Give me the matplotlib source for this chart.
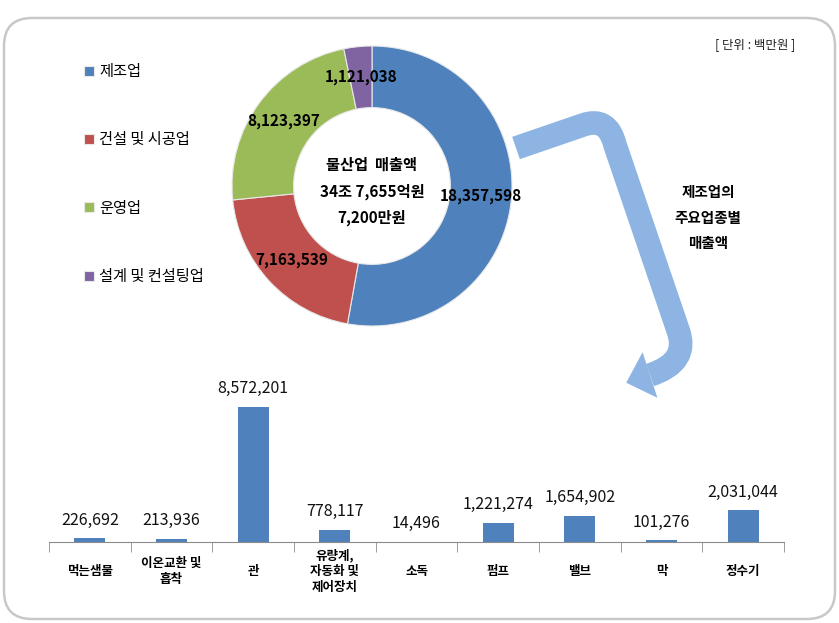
import numpy as np
import matplotlib
matplotlib.use("Agg")
import matplotlib.pyplot as plt
from matplotlib.path import Path
from matplotlib.patches import PathPatch, Polygon, FancyBboxPatch

plt.rcParams['font.family'] = ['Noto Sans CJK KR', 'DejaVu Sans']

# 물산업 분야별 매출액 (단위: 백만원)
sectors = ["제조업", "건설 및 시공업", "운영업", "설계 및 컨설팅업"]
sector_sales = [18357598, 7163539, 8123397, 1121038]
sector_colors = ["#4F81BD", "#C0504D", "#9BBB59", "#8064A2"]

# 제조업 주요업종별 매출액
items = ["먹는샘물", "이온교환 및\n흡착", "관", "유량계,\n자동화 및\n제어장치", "소독",
         "펌프", "밸브", "막", "정수기"]
item_sales = [226692, 213936, 8572201, 778117, 14496, 1221274, 1654902, 101276, 2031044]

W, H = 839, 623
fig = plt.figure(figsize=(W / 100, H / 100), dpi=100)

# 배경: 테두리와 화살표 (픽셀 좌표)
bg = fig.add_axes([0, 0, 1, 1])
bg.set_xlim(0, W)
bg.set_ylim(H, 0)
bg.axis("off")
bg.add_patch(FancyBboxPatch((4, 18), 831, 601, boxstyle="round,pad=0,rounding_size=28",
                            fill=False, edgecolor="#C8C8C8", lw=1.8))

arrow_col = "#8DB4E2"
verts = [(516, 148), (583, 125), (608, 116), (615, 145), (678, 330), (690, 362), (650, 375)]
codes = [Path.MOVETO, Path.LINETO, Path.CURVE3, Path.CURVE3, Path.LINETO, Path.CURVE3, Path.CURVE3]
bg.add_patch(PathPatch(Path(verts, codes), fill=False, edgecolor=arrow_col, lw=17,
                       capstyle="butt", joinstyle="round"))
end = np.array(verts[-1], float)
d = end - np.array(verts[-2], float)
d /= np.linalg.norm(d)
n = np.array([-d[1], d[0]])
head = [end + n * 24, end + d * 25, end - n * 24]
bg.add_patch(Polygon(head, closed=True, facecolor=arrow_col, edgecolor="none"))

bg.text(795, 45, "[ 단위 : 백만원 ]", fontsize=9, ha="right", va="center", color="#222222")
for txt, y in zip(["제조업의", "주요업종별", "매출액"], [192, 218, 243]):
    bg.text(708, y, txt, fontsize=10.5, fontweight="bold", ha="center", va="center")

# 도넛 차트
cx, cy, r = 372, 186, 140
pax = fig.add_axes([(cx - r) / W, 1 - (cy + r) / H, 2 * r / W, 2 * r / H])
wedges, _ = pax.pie(sector_sales, colors=sector_colors, startangle=90, counterclock=False,
                    wedgeprops=dict(width=0.44, edgecolor="#E8E8E8", linewidth=0.8))
pax.set_xlim(-1, 1)
pax.set_ylim(-1, 1)
pax.set_aspect("equal")
for w, v in zip(wedges, sector_sales):
    ang = np.deg2rad((w.theta1 + w.theta2) / 2)
    pax.text(0.78 * np.cos(ang), 0.78 * np.sin(ang), f"{v:,}", fontsize=11,
             fontweight="bold", ha="center", va="center")

total = sum(sector_sales)
jo, rest = divmod(total, 1000000)
eok, man = divmod(rest, 100)
center_lines = ["물산업  매출액", f"{jo}조 {eok:,}억원", f"{man * 100:,}만원"]
for txt, yy in zip(center_lines, [0.15, -0.04, -0.23]):
    pax.text(0, yy, txt, fontsize=11, fontweight="bold", ha="center", va="center")

fig.legend(wedges, sectors, loc="upper left", bbox_to_anchor=(84 / W, 1 - 63 / H),
           frameon=False, fontsize=11, handlelength=0.65, handleheight=0.65,
           handletextpad=0.35, labelspacing=3.36, borderpad=0, borderaxespad=0)

# 막대 차트
bax = fig.add_axes([49 / W, 1 - 542 / H, 735 / W, 162 / H])
x = np.arange(len(items))
bax.bar(x, item_sales, width=0.38, color="#4F81BD")
bax.set_xlim(-0.5, len(items) - 0.5)
bax.set_ylim(0, max(item_sales) * 1.2)
for i, v in zip(x, item_sales):
    bax.annotate(f"{v:,}", (i, v), xytext=(0, 13), textcoords="offset points",
                 ha="center", va="center", fontsize=11.5, color="#111111")
for s in ["top", "right", "left"]:
    bax.spines[s].set_visible(False)
bax.spines["bottom"].set_color("#8C8C8C")
bax.set_yticks([])
bax.set_xticks(x, items, fontsize=9, fontweight="bold")
bax.set_xticks(np.arange(len(items) + 1) - 0.5, minor=True)
bax.tick_params(axis="x", which="major", length=0, pad=21)
bax.tick_params(axis="x", which="minor", length=7, color="#8C8C8C")
for lbl in bax.get_xticklabels():
    lbl.set_verticalalignment("center")
    lbl.set_linespacing(1.3)
bax.patch.set_visible(False)

fig.savefig("out.png", dpi=100, facecolor="white")
